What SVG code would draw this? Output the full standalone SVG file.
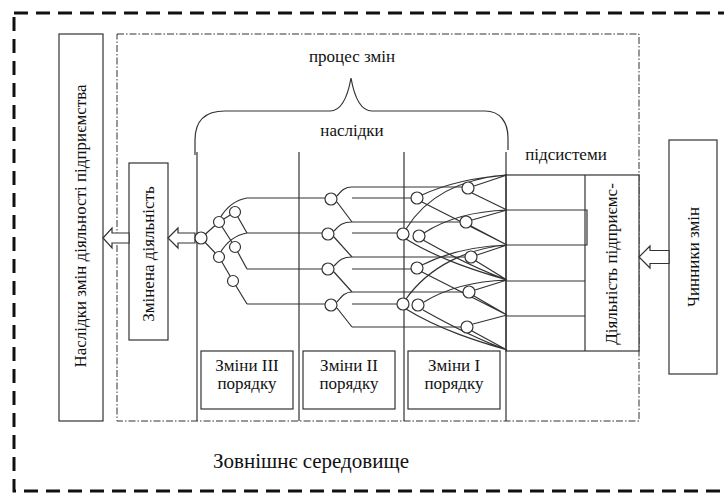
<svg xmlns="http://www.w3.org/2000/svg" width="724" height="493" viewBox="0 0 724 493">
<style>
.t{font-family:"Liberation Serif","Times New Roman",serif;font-size:17px;fill:#111}
.box{fill:#fff;stroke:#333;stroke-width:1.2}
.ln{fill:none;stroke:#333;stroke-width:1.2}
.cr{fill:#fff;stroke:#333;stroke-width:1.2}
.arr{fill:#fff;stroke:#333;stroke-width:1.2}
</style>
<rect width="724" height="493" fill="#fff"/>
<rect x="14" y="13" width="730" height="478" fill="none" stroke="#111" stroke-width="3" stroke-dasharray="14,8"/>
<rect x="117" y="34" width="522" height="387" fill="none" stroke="#333" stroke-width="1" stroke-dasharray="7,2,1.5,2"/>
<g id="brace"><path class="ln" d="M195,155 L195,140 C195,120 205,111 225,111 L330,111 C342,111 348,95 351,78 C354,95 360,111 372,111 L485,111 C500,111 508,122 508,138 L508,150"/></g>
<text class="t" x="352" y="62" text-anchor="middle">процес змін</text>
<text class="t" x="352" y="136" text-anchor="middle">наслідки</text>
<text class="t" x="566" y="160" text-anchor="middle">підсистеми</text>
<g id="n-naslidky"><rect class="box" x="59" y="34" width="44" height="387"/><text class="t" transform="translate(86,226) rotate(-90)" text-anchor="middle">Наслідки змін діяльності підприємства</text></g>
<g id="n-zminena"><rect class="box" x="129" y="163" width="39" height="177"/><text class="t" transform="translate(154,254) rotate(-90)" text-anchor="middle">Змінена діяльність</text></g>
<g id="n-chynnyky"><rect class="box" x="669" y="140" width="48" height="234"/><text class="t" transform="translate(699,257) rotate(-90)" text-anchor="middle">Чинники змін</text></g>
<g id="n-pidsystemy"><rect class="box" x="506" y="175" width="133" height="176"/><line class="ln" x1="585" y1="175" x2="585" y2="351"/><path class="ln" d="M506,210 H587 V245 H506 M506,281 H585 M506,316 H585"/><text class="t" transform="translate(617,264) rotate(-90)" text-anchor="middle">Діяльність підприємс-</text></g>
<g id="n-z3"><rect class="box" x="201" y="351" width="92" height="58"/><text class="t" x="247" y="371" text-anchor="middle">Зміни III</text><text class="t" x="247" y="389" text-anchor="middle">порядку</text></g>
<g id="n-z2"><rect class="box" x="303" y="351" width="92" height="58"/><text class="t" x="349" y="371" text-anchor="middle">Зміни II</text><text class="t" x="349" y="389" text-anchor="middle">порядку</text></g>
<g id="n-z1"><rect class="box" x="408" y="351" width="92" height="58"/><text class="t" x="454" y="371" text-anchor="middle">Зміни I</text><text class="t" x="454" y="389" text-anchor="middle">порядку</text></g>
<text class="t" x="213" y="468" style="font-size:21px">Зовнішнє середовище</text>
<g id="connectors">
<path class="ln" d="M197,152 V421 M299,152 V421 M404,152 V421 M506,152 V421"/>
<polygon class="arr" points="103,238 112,228 112,233 129,233 129,243 112,243 112,248"/>
<polygon class="arr" points="168,238 178,228 178,233 195,233 195,243 178,243 178,248"/>
<polygon class="arr" points="639,257 650,246 650,250.5 669,250.5 669,263.5 650,263.5 650,268"/>
<path class="ln" d="M201,238 L219,222 M201,238 L219,257 M219,222 L235,212 M219,222 L235,247 M219,257 L233,281 M235,212 L247,233 M235,247 L247,269 M233,281 L247,304"/>
<path class="ln" d="M247,198 C235,200 226,208 220,218 M247,233 C235,235 226,243 220,253"/>
<path class="ln" d="M247,198 H325 M247,233 H322 M247,269 H322 M247,304 H325"/>
<path class="ln" d="M337,196 C342,190 345,187 352,187 M337,202 L352,222 M334,231 C339,225 343,222 352,222 M334,237 L352,257 M334,266 C339,260 343,257 352,257 M334,272 L352,292 M337,302 C342,296 345,292 352,292 M337,308 L352,327"/>
<path class="ln" d="M352,187 H462 M352,198 H411 M352,222 H460 M352,233 H397 M352,257 H465 M352,269 H411 M352,292 H463 M352,304 H397 M352,327 H461"/>
<path class="ln" d="M474,186 L507,175 M472,193 L507,210 M422,195 C450,182 480,177 507,175 M422,202 L507,245 M472,220 L507,210 M471,226 L507,245 M406,229 C430,190 470,178 507,175 M406,239 C440,260 480,272 507,280 M424,233 C450,216 480,211 507,210 M423,240 C455,258 485,272 507,280 M477,255 L507,245 M476,261 L507,280 M422,265 C450,251 480,246 507,245 M422,272 L507,315 M475,290 L507,280 M474,296 L507,315 M406,299 C430,265 470,248 507,245 M406,309 C440,330 480,342 507,350 M424,302 C450,286 480,281 507,280 M423,310 C455,328 485,342 507,350 M473,324 L507,315 M472,331 L507,350"/>
</g>
<g id="circles">
<circle class="cr" cx="201" cy="238" r="6"/>
<circle class="cr" cx="219" cy="222" r="5.5"/>
<circle class="cr" cx="235" cy="212" r="5.5"/>
<circle class="cr" cx="235" cy="247" r="5.5"/>
<circle class="cr" cx="219" cy="257" r="5.5"/>
<circle class="cr" cx="233" cy="281" r="5.5"/>
<circle class="cr" cx="331" cy="199" r="6"/>
<circle class="cr" cx="328" cy="234" r="6"/>
<circle class="cr" cx="328" cy="269" r="6"/>
<circle class="cr" cx="331" cy="305" r="6"/>
<circle class="cr" cx="468" cy="188" r="6"/>
<circle class="cr" cx="417" cy="198" r="6"/>
<circle class="cr" cx="466" cy="222" r="6"/>
<circle class="cr" cx="403" cy="234" r="6"/>
<circle class="cr" cx="419" cy="236" r="6"/>
<circle class="cr" cx="471" cy="257" r="6"/>
<circle class="cr" cx="417" cy="268" r="6"/>
<circle class="cr" cx="469" cy="292" r="6"/>
<circle class="cr" cx="403" cy="304" r="6"/>
<circle class="cr" cx="418" cy="305" r="6"/>
<circle class="cr" cx="467" cy="327" r="6"/>
</g>
</svg>
